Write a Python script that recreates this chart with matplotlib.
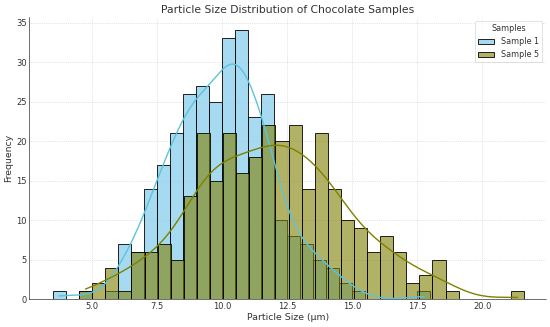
import numpy as np
import matplotlib
matplotlib.use("Agg")
import matplotlib.pyplot as plt
import seaborn as sns

# bin edges (particle size, um)
edges_s1 = np.arange(3.5, 18.01, 0.5)
edges_s5 = np.linspace(4.52, 21.6, 35)

# counts per bin
counts_s1 = [1, 0, 1, 0, 1, 7, 6, 14, 17, 21, 26, 27, 25, 33, 34, 23, 26, 10, 8, 7,
             5, 4, 2, 1, 0, 0, 0, 0, 1]
counts_s5 = [1, 2, 4, 1, 6, 6, 7, 5, 13, 21, 15, 21, 16, 18, 22, 20, 22, 14, 21, 14,
             10, 9, 6, 8, 6, 2, 3, 5, 1, 0, 0, 0, 0, 1]

centers_s1 = (edges_s1[:-1] + edges_s1[1:]) / 2
centers_s5 = (edges_s5[:-1] + edges_s5[1:]) / 2
sample1 = np.repeat(centers_s1, counts_s1)
sample5 = np.repeat(centers_s5, counts_s5)

plt.rcParams['text.color'] = '#333333'
plt.rcParams['axes.labelcolor'] = '#333333'
plt.rcParams['xtick.color'] = '#333333'
plt.rcParams['ytick.color'] = '#333333'

fig, ax = plt.subplots(figsize=(11, 6.54), dpi=50)

sns.histplot(sample1, bins=edges_s1, kde=True, color='skyblue', edgecolor='black',
             alpha=0.75, linewidth=1.2, label='Sample 1', ax=ax, line_kws={'linewidth': 2})
ax.lines[-1].set_color('#5cc3de')  # kde line a bit stronger than the bars
sns.histplot(sample5, bins=edges_s5, kde=True, color='olive', edgecolor='black',
             alpha=0.6, linewidth=1.2, label='Sample 5', ax=ax, line_kws={'linewidth': 2})

ax.set_xlim(2.6, 22.45)
ax.set_title('Particle Size Distribution of Chocolate Samples', fontsize=15.5)
ax.set_xlabel('Particle Size (μm)', fontsize=13.5)
ax.set_ylabel('Frequency', fontsize=13.5)
ax.tick_params(labelsize=12, length=0)
ax.grid(True, linestyle=':', color='#cccccc', linewidth=1)
ax.set_axisbelow(True)
ax.spines['top'].set_visible(False)
ax.spines['right'].set_visible(False)
ax.legend(title='Samples', loc='upper right', fontsize=11.5, title_fontsize=11.5)

fig.subplots_adjust(left=0.053, right=0.993, top=0.948, bottom=0.085)
fig.savefig('out.png', dpi=50)
